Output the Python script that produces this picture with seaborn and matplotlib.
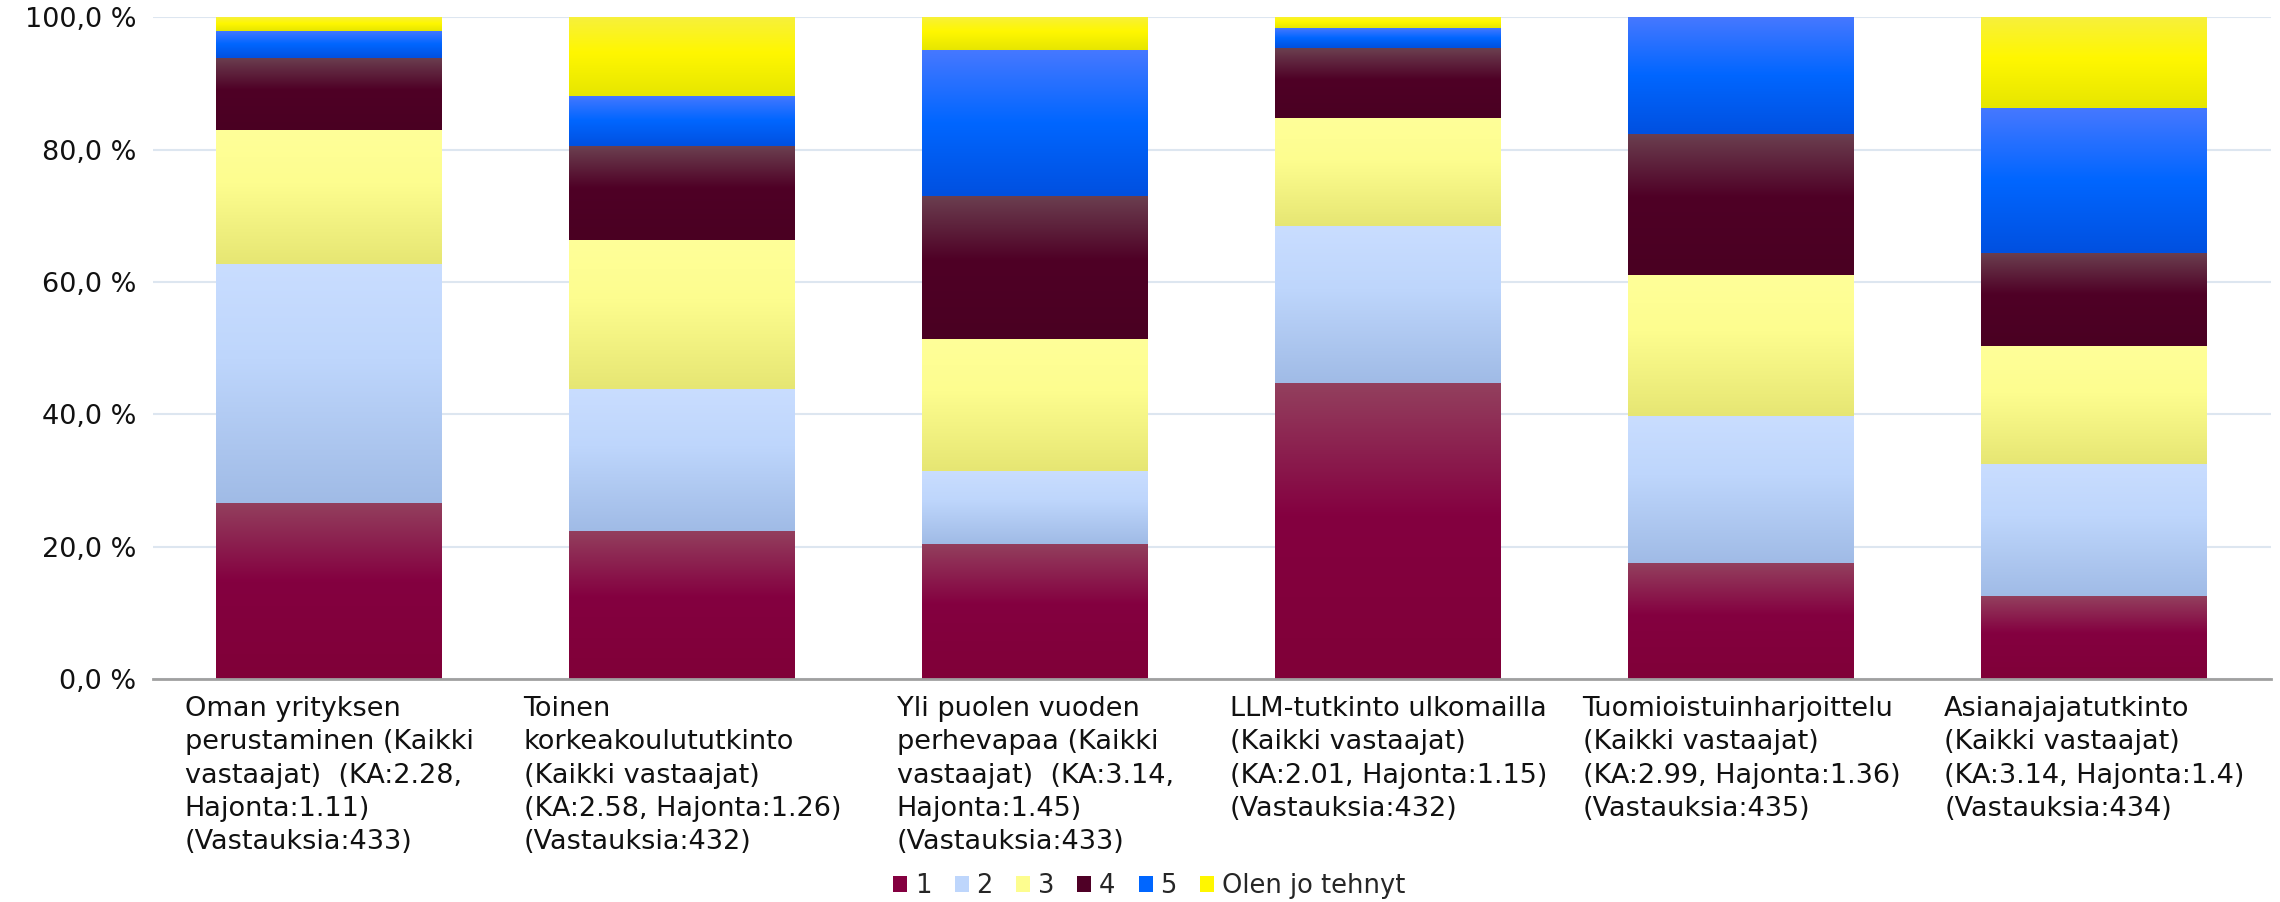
import numpy as np
import matplotlib
matplotlib.use("Agg")
import matplotlib.pyplot as plt
import seaborn as sns
from matplotlib.colors import LinearSegmentedColormap
from matplotlib.patches import Patch
from matplotlib.ticker import FuncFormatter, MultipleLocator

# data (osuudet %, luettu kuvasta)
categories = ["Oman yrityksen perustaminen", "Toinen korkeakoulututkinto",
              "Yli puolen vuoden perhevapaa", "LLM-tutkinto ulkomailla",
              "Tuomioistuinharjoittelu", "Asianajajatutkinto"]
tick_labels = [
    "Oman yrityksen\nperustaminen (Kaikki\nvastaajat)  (KA:2.28,\nHajonta:1.11)\n(Vastauksia:433)",
    "Toinen\nkorkeakoulututkinto\n(Kaikki vastaajat)\n(KA:2.58, Hajonta:1.26)\n(Vastauksia:432)",
    "Yli puolen vuoden\nperhevapaa (Kaikki\nvastaajat)  (KA:3.14,\nHajonta:1.45)\n(Vastauksia:433)",
    "LLM-tutkinto ulkomailla\n(Kaikki vastaajat)\n(KA:2.01, Hajonta:1.15)\n(Vastauksia:432)",
    "Tuomioistuinharjoittelu\n(Kaikki vastaajat)\n(KA:2.99, Hajonta:1.36)\n(Vastauksia:435)",
    "Asianajajatutkinto\n(Kaikki vastaajat)\n(KA:3.14, Hajonta:1.4)\n(Vastauksia:434)",
]
series_names = ["1", "2", "3", "4", "5", "Olen jo tehnyt"]
s1 = [26.6, 22.4, 20.4, 44.7, 17.5, 12.5]
s2 = [36.1, 21.4, 11.0, 23.7, 22.2, 20.0]
s3 = [20.2, 22.6, 20.0, 16.4, 21.3, 17.8]
s4 = [10.9, 14.1, 21.6, 10.5, 21.4, 14.1]
s5 = [4.1, 7.6, 22.0, 3.0, 17.6, 21.9]
s_olen = [2.1, 11.9, 5.0, 1.7, 0.0, 13.7]
series = [s1, s2, s3, s4, s5, s_olen]

# liukuvärit: (ylä, keski, ala, keskikohta)
grads = [
    ("#93405e", "#840040", "#800038", 0.45),
    ("#c9ddff", "#bed6fc", "#a0bbe6", 0.40),
    ("#ffff99", "#fdfd8f", "#e6e673", 0.40),
    ("#6b4050", "#4f0026", "#4a0022", 0.45),
    ("#4678ff", "#0066ff", "#0050e0", 0.50),
    ("#f7f03c", "#fff700", "#e6e600", 0.45),
]

sns.set_theme(style="white")
plt.rcParams['font.family'] = ['DejaVu Sans']

fig, ax = plt.subplots(figsize=(22.8, 9.02), dpi=100)
fig.subplots_adjust(left=0.067, right=0.996, top=0.981, bottom=0.247)

bottom = np.zeros(len(categories))
for vals, (top, mid, bot, pos) in zip(series, grads):
    n0 = len(ax.patches)
    sns.barplot(x=categories, y=vals, bottom=bottom, color=mid, width=0.64,
                linewidth=0, saturation=1, ax=ax)
    cmap = LinearSegmentedColormap.from_list("g", [(0, top), (pos, mid), (1, bot)])
    g = np.linspace(0, 1, 256).reshape(-1, 1)
    for p in ax.patches[n0:]:
        h = p.get_height()
        if h <= 0:
            continue
        x0, y0, w = p.get_x(), p.get_y(), p.get_width()
        ax.imshow(g, cmap=cmap, extent=[x0, x0 + w, y0, y0 + h], origin="upper",
                  aspect="auto", zorder=2, interpolation="bilinear")
    bottom = bottom + np.array(vals)

ax.set_xlim(-0.5, len(categories) - 0.5)
ax.set_ylim(0, 100)
ax.yaxis.set_major_locator(MultipleLocator(20))
ax.yaxis.set_major_formatter(FuncFormatter(lambda v, _: f"{v:.1f} %".replace(".", ",")))
ax.grid(axis="y", color="#dde6f0", linewidth=1.5, zorder=0)
ax.set_axisbelow(True)
for s in ["left", "right", "top"]:
    ax.spines[s].set_visible(False)
ax.spines["bottom"].set_color("#a0a0a0")
ax.spines["bottom"].set_linewidth(2)
ax.spines["bottom"].set_zorder(3)

ax.set_xticks(range(len(categories)))
ax.set_xticklabels(tick_labels, fontsize=19.5, linespacing=1.37, ha="center",
                   multialignment="left", va="top", color="#111111")
ax.tick_params(axis="x", length=0, pad=12)
ax.tick_params(axis="y", length=0, pad=12, labelsize=19.5, labelcolor="#111111")

handles = [Patch(facecolor=mid, edgecolor="none") for (_, mid, _, _) in grads]
fig.legend(handles, series_names, loc="center", bbox_to_anchor=(0.504, 0.018),
           ncol=6, frameon=False, fontsize=18.5, handlelength=0.55, handleheight=0.6,
           handletextpad=0.3, columnspacing=0.9)

fig.savefig("out.png", dpi=100)
